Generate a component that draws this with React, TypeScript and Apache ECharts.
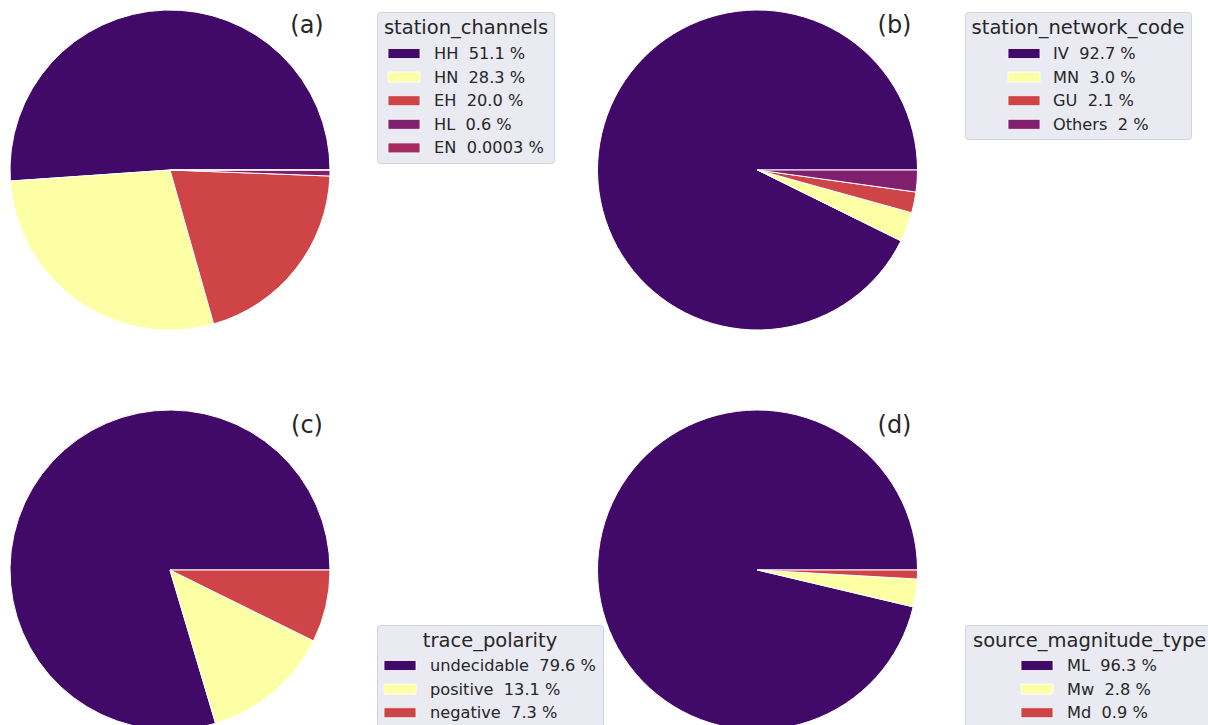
import React, { useEffect, useRef } from "react";
import * as echarts from "echarts";

// ---- data ----
const channelNames = ["HH", "HN", "EH", "HL", "EN"];
const channelValues = [51.1, 28.3, 20.0, 0.6, 0.0003];
const channelLabels = ["51.1", "28.3", "20.0", "0.6", "0.0003"];

const networkNames = ["IV", "MN", "GU", "Others"];
const networkValues = [92.7, 3.0, 2.1, 2.2];
const networkLabels = ["92.7", "3.0", "2.1", "2"];

const polarityNames = ["undecidable", "positive", "negative"];
const polarityValues = [79.6, 13.1, 7.3];
const polarityLabels = ["79.6", "13.1", "7.3"];

const magnitudeNames = ["ML", "Mw", "Md"];
const magnitudeValues = [96.3, 2.8, 0.9];
const magnitudeLabels = ["96.3", "2.8", "0.9"];

const palette = ["#420a68", "#fcffa4", "#cf4446", "#7f1f6e", "#a52c60"];

const FONT = "DejaVu Sans";
const TEXT = "#262626";

type Panel = {
  title: string;
  tag: string;
  names: string[];
  values: number[];
  labels: string[];
  center: [number, number];
  box: { x: number; y: number; w: number; h: number };
  titleX: number;
  titleY: number;
  patchX: number;
  textX: number;
  rowY: number;
};

const panels: Panel[] = [
  {
    title: "station_channels", tag: "(a)",
    names: channelNames, values: channelValues, labels: channelLabels,
    center: [170, 170],
    box: { x: 377, y: 12, w: 177, h: 151 },
    titleX: 466, titleY: 27, patchX: 388, textX: 434, rowY: 53.5,
  },
  {
    title: "station_network_code", tag: "(b)",
    names: networkNames, values: networkValues, labels: networkLabels,
    center: [757.5, 170],
    box: { x: 965, y: 12, w: 226, h: 127 },
    titleX: 1078, titleY: 27, patchX: 1008, textX: 1053, rowY: 53.5,
  },
  {
    title: "trace_polarity", tag: "(c)",
    names: polarityNames, values: polarityValues, labels: polarityLabels,
    center: [170, 570],
    box: { x: 377, y: 625, w: 226, h: 110 },
    titleX: 490, titleY: 640, patchX: 384, textX: 430, rowY: 665.5,
  },
  {
    title: "source_magnitude_type", tag: "(d)",
    names: magnitudeNames, values: magnitudeValues, labels: magnitudeLabels,
    center: [757.5, 570],
    box: { x: 965, y: 625, w: 260, h: 110 },
    titleX: 973, titleY: 640, patchX: 1021, textX: 1067, rowY: 665.5,
  },
];

const ROW = 23.6;

export default function App() {
  const ref = useRef<HTMLDivElement>(null);
  useEffect(() => {
    if (!ref.current) return;
    const chart = echarts.init(ref.current, undefined, { renderer: "svg" });

    const series = panels.map((p) => ({
      type: "pie",
      center: p.center,
      radius: 160,
      startAngle: 0,
      clockwise: false,
      avoidLabelOverlap: false,
      minAngle: 0,
      label: { show: false },
      labelLine: { show: false },
      emphasis: { disabled: true },
      itemStyle: { borderColor: "#ffffff", borderWidth: 1 },
      data: p.names.map((n, i) => ({
        name: n,
        value: p.values[i],
        itemStyle: { color: palette[i] },
      })),
    }));

    const graphics: any[] = [];
    panels.forEach((p) => {
      // panel tag
      graphics.push({
        type: "text",
        x: p.center[0] + 137,
        y: p.center[1] - 145,
        style: {
          text: p.tag, font: `24px '${FONT}'`, fill: TEXT,
          textAlign: "center", textVerticalAlign: "middle",
        },
        z: 10,
      });
      // legend box
      graphics.push({
        type: "rect",
        shape: { x: p.box.x + 0.5, y: p.box.y + 0.5, width: p.box.w, height: p.box.h, r: 3 },
        style: { fill: "#eaeaf2", stroke: "#d2d2da", lineWidth: 1 },
        z: 5,
      });
      const alignLeft = p.tag === "(d)";
      graphics.push({
        type: "text",
        x: p.titleX,
        y: p.titleY,
        style: {
          text: p.title, font: `19.5px '${FONT}'`, fill: TEXT,
          textAlign: alignLeft ? "left" : "center", textVerticalAlign: "middle",
        },
        z: 10,
      });
      p.names.forEach((n, i) => {
        const y = p.rowY + i * ROW;
        graphics.push({
          type: "rect",
          shape: { x: p.patchX, y: y - 5, width: 32, height: 10 },
          style: { fill: palette[i], stroke: "#ffffff", lineWidth: 0.8 },
          z: 10,
        });
        graphics.push({
          type: "text",
          x: p.textX,
          y: y,
          style: {
            text: `${n}  ${p.labels[i]} %`, font: `16.2px '${FONT}'`, fill: TEXT,
            textAlign: "left", textVerticalAlign: "middle",
          },
          z: 10,
        });
      });
    });

    chart.setOption({
      animation: false,
      backgroundColor: "#ffffff",
      series,
      graphic: graphics,
    });
    return () => chart.dispose();
  }, []);
  return (
    <div
      ref={ref}
      style={{ position: "fixed", left: 0, top: 0, width: 1208, height: 725 }}
    />
  );
}
